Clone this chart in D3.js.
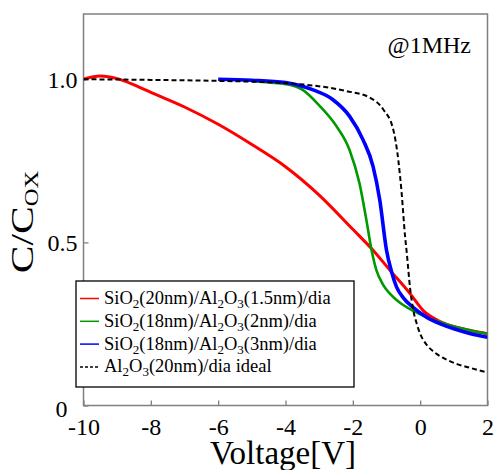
<!DOCTYPE html>
<html>
<head>
<meta charset="utf-8">
<script src="https://cdn.jsdelivr.net/npm/d3@7"></script>
<style>
  body { margin: 0; background: #fff; }
</style>
</head>
<body>
<svg id="chart" width="494" height="470" font-family="Liberation Serif"></svg>
<script>
// C-V curves, normalised capacitance vs gate voltage
const redV   = [-10, -9.5, -9, -8.5, -8, -7, -6, -5, -4, -3, -2, -1.4, -0.9, -0.3, 0.1, 0.5, 1, 1.5, 2];
const redC   = [1.0, 1.01, 1.002, 0.983, 0.96, 0.915, 0.862, 0.80, 0.732, 0.645, 0.54, 0.476, 0.415, 0.343, 0.29, 0.262, 0.242, 0.23, 0.22];
const greenV = [-5, -4.5, -4, -3.5, -3, -2.5, -2.1, -1.8, -1.6, -1.45, -1.3, -1.1, -0.9, -0.6, -0.2, 0.2, 0.6, 1, 1.5, 2];
const greenC = [0.995, 0.99, 0.985, 0.968, 0.92, 0.858, 0.784, 0.68, 0.57, 0.48, 0.415, 0.37, 0.343, 0.315, 0.29, 0.27, 0.255, 0.242, 0.23, 0.22];
const blueV  = [-6, -5, -4, -3.2, -2.6, -2.1, -1.7, -1.4, -1.2, -1.0, -0.85, -0.7, -0.5, -0.2, 0.2, 0.6, 1, 1.5, 2];
const blueC  = [1.0, 0.997, 0.99, 0.968, 0.938, 0.887, 0.815, 0.733, 0.63, 0.476, 0.41, 0.363, 0.33, 0.30, 0.27, 0.25, 0.235, 0.22, 0.209];
const idealV = [-10, -8, -6, -4, -3.2, -2.2, -1.5, -1.1, -0.8, -0.65, -0.55, -0.45, -0.4, -0.3, -0.2, -0.1, 0, 0.2, 0.4, 0.7, 1.1, 1.5, 2];
const idealC = [1.0, 0.998, 0.995, 0.988, 0.981, 0.964, 0.944, 0.908, 0.846, 0.753, 0.651, 0.52, 0.47, 0.36, 0.29, 0.25, 0.22, 0.185, 0.165, 0.145, 0.127, 0.115, 0.101];

// legend text, "_x" means subscript x
const seriesLabels = [
  "SiO_2(20nm)/Al_2O_3(1.5nm)/dia",
  "SiO_2(18nm)/Al_2O_3(2nm)/dia",
  "SiO_2(18nm)/Al_2O_3(3nm)/dia",
  "Al_2O_3(20nm)/dia ideal"
];
const seriesColors = ["#ff0000", "#009a00", "#0000ff", "#000000"];

const xTicks = [-10, -8, -6, -4, -2, 0, 2];
const yTicks = [0, 0.5, 1.0];
const yTickLabels = ["0", "0.5", "1.0"];

const series = [
  { v: redV, c: redC, width: 3 },
  { v: greenV, c: greenC, width: 2.6 },
  { v: blueV, c: blueC, width: 3.6 },
  { v: idealV, c: idealC, width: 2, dash: "5,3" }
];

const FONT = "Liberation Serif";
const svg = d3.select("#chart");
const m = { left: 83.5, right: 487.5, top: 14, bottom: 405.5 };

const x = d3.scaleLinear().domain([-10, 2]).range([m.left, m.right]);
const y = d3.scaleLinear().domain([0, 1.2]).range([m.bottom, m.top]);

svg.append("clipPath").attr("id", "plotClip")
  .append("rect")
  .attr("x", m.left).attr("y", m.top)
  .attr("width", m.right - m.left).attr("height", m.bottom - m.top);

const frameColor = "#808080";

// axes with inward ticks
const xAxis = d3.axisBottom(x).tickValues(xTicks).tickSizeInner(-5).tickSizeOuter(0);
const gx = svg.append("g").attr("transform", `translate(0,${m.bottom})`).call(xAxis)
  .attr("font-family", FONT).attr("font-size", 24);
gx.select(".domain").remove();
gx.selectAll(".tick line").attr("stroke", frameColor).attr("stroke-width", 1.3);
gx.selectAll(".tick text")
  .attr("y", 29).attr("dy", 0)
  .attr("font-family", FONT).attr("font-size", 24).attr("fill", "#000")
  .text(d => d < 0 ? "-" + Math.abs(d) : d);

const yAxis = d3.axisLeft(y).tickValues(yTicks).tickSizeInner(-5).tickSizeOuter(0)
  .tickFormat((d, i) => yTickLabels[i]);
const gy = svg.append("g").attr("transform", `translate(${m.left},0)`).call(yAxis)
  .attr("font-family", FONT).attr("font-size", 24);
gy.select(".domain").remove();
gy.selectAll(".tick line").attr("stroke", frameColor).attr("stroke-width", 1.3);
gy.selectAll(".tick text")
  .attr("x", -6).attr("dy", "0.35em")
  .attr("font-family", FONT).attr("font-size", 24).attr("fill", "#000");
// the origin label sits a bit lower and further left
gy.selectAll(".tick text").filter(d => d === 0).attr("x", -16).attr("dy", "0.45em");

// plot frame
svg.append("rect")
  .attr("x", m.left).attr("y", m.top)
  .attr("width", m.right - m.left).attr("height", m.bottom - m.top)
  .attr("fill", "none").attr("stroke", frameColor).attr("stroke-width", 1.5);

// curves
const line = d3.line().x(d => x(d[0])).y(d => y(d[1])).curve(d3.curveMonotoneX);
const plot = svg.append("g").attr("clip-path", "url(#plotClip)");
series.forEach((s, i) => {
  plot.append("path")
    .datum(s.v.map((v, k) => [v, s.c[k]]))
    .attr("d", line)
    .attr("fill", "none")
    .attr("stroke", seriesColors[i])
    .attr("stroke-width", s.width)
    .attr("stroke-dasharray", s.dash || null)
    .attr("stroke-linejoin", "round");
});

// writes "A_2B" style strings with subscripts into a text element
function subText(sel, str, subSize, shift) {
  const parts = str.split(/(_.)/).filter(p => p.length);
  let down = false;
  parts.forEach(p => {
    if (p[0] === "_") {
      sel.append("tspan").attr("font-size", subSize).attr("dy", shift).text(p[1]);
      down = true;
    } else {
      const t = sel.append("tspan").text(p);
      if (down) { t.attr("dy", -shift); down = false; }
    }
  });
}

// legend
const lg = svg.append("g").attr("font-family", FONT);
lg.append("rect")
  .attr("x", 76).attr("y", 281).attr("width", 278).attr("height", 106)
  .attr("fill", "#fff").attr("stroke", "#000").attr("stroke-width", 1.3);
seriesLabels.forEach((lab, i) => {
  const ly = 298.5 + i * 22.8;
  lg.append("line")
    .attr("x1", 80).attr("x2", 99).attr("y1", ly).attr("y2", ly)
    .attr("stroke", seriesColors[i]).attr("stroke-width", 1.5)
    .attr("stroke-dasharray", series[i].dash ? "3,2" : null);
  const t = lg.append("text").attr("x", 104).attr("y", ly + 5.5)
    .attr("font-family", FONT).attr("font-size", 18.5).attr("fill", "#000");
  subText(t, lab, 13, 4);
});

// annotation
svg.append("text").attr("x", 471).attr("y", 53).attr("text-anchor", "end")
  .attr("font-family", FONT).attr("font-size", 24).text("@1MHz");

// axis titles
svg.append("text").attr("x", 283).attr("y", 464).attr("text-anchor", "middle")
  .attr("font-family", FONT).attr("font-size", 33).text("Voltage[V]");

const yt = svg.append("text")
  .attr("transform", "translate(33,222) rotate(-90) scale(1.3,1)")
  .attr("text-anchor", "middle").attr("font-family", FONT).attr("font-size", 32);
subText(yt, "C/C_O", 19, 5);
yt.select("tspan:last-child").text("OX");
</script>
</body>
</html>
